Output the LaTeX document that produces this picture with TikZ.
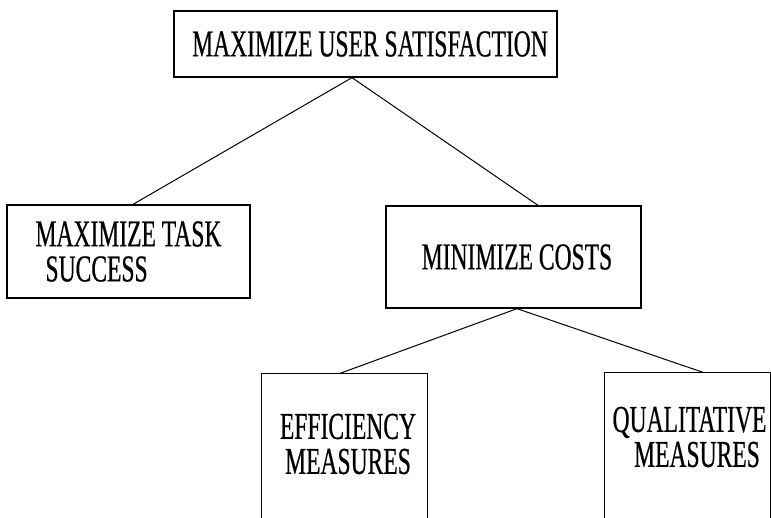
\documentclass[tikz,border=0pt]{standalone}
\usepackage{fontspec}
\setmainfont{Liberation Serif}[FakeStretch=0.62,FakeBold=0.5]
\begin{document}
\begin{tikzpicture}[x=1pt,y=-1pt,
  box/.style={draw=black,line width=1.3pt,inner sep=0pt,align=center,
    font=\fontsize{38}{35}\selectfont},
  openbox/.style={box,draw=none},
  link/.style={draw=black,line width=1pt}]
\useasboundingbox (0,0) rectangle (771,518);
\clip (0,0) rectangle (771,518);
\node[box,minimum width=383pt,minimum height=66pt] (top) at (365.5,44) {\hspace*{9pt}MAXIMIZE USER SATISFACTION};
\node[box,minimum width=243pt,minimum height=93pt,align=left] (task) at (128.5,251.5) {MAXIMIZE TASK\\\hspace*{10pt}SUCCESS};
\node[box,minimum width=255pt,minimum height=102pt] (costs) at (513.5,257) {\hspace*{7pt}MINIMIZE COSTS};
\node[openbox,minimum width=165pt,minimum height=140pt] (eff) at (344.5,444) {\hspace*{7pt}EFFICIENCY\\\hspace*{7pt}MEASURES};
\node[openbox,minimum width=165pt,minimum height=128pt] (qual) at (687.5,437) {\hspace*{4pt}QUALITATIVE\\\hspace*{19pt}MEASURES};
\draw[line width=1.3pt] ([yshift=-30pt]eff.south west) -- (eff.north west) -- (eff.north east) -- ([yshift=-30pt]eff.south east);
\draw[line width=1.3pt] ([yshift=-30pt]qual.south west) -- (qual.north west) -- (qual.north east) -- ([yshift=-30pt]qual.south east);
\draw[link] ([xshift=-13.5pt]top.south) -- ([xshift=4.5pt]task.north);
\draw[link] ([xshift=-13.5pt]top.south) -- ([xshift=24.5pt]costs.north);
\draw[link] ([xshift=3.5pt]costs.south) -- ([xshift=-4.5pt]eff.north);
\draw[link] ([xshift=3.5pt]costs.south) -- ([xshift=15.5pt]qual.north);
\end{tikzpicture}
\end{document}
